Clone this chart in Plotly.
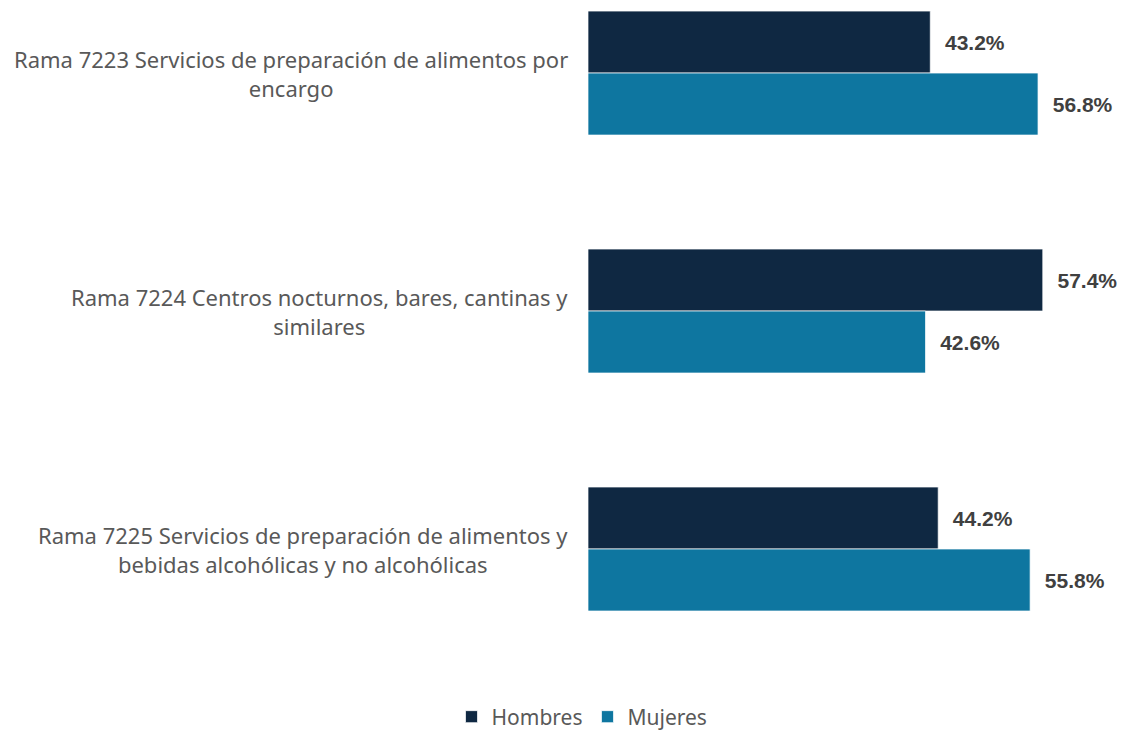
import plotly.graph_objects as go

# Datos
ramas = [
    "Rama 7223 Servicios de preparación de alimentos por<br>encargo",
    "Rama 7224 Centros nocturnos, bares, cantinas y<br>similares",
    "Rama 7225 Servicios de preparación de alimentos y<br>bebidas alcohólicas y no alcohólicas",
]
hombres = [43.2, 57.4, 44.2]
mujeres = [56.8, 42.6, 55.8]

colores = {"Hombres": "#0f2842", "Mujeres": "#0e76a0"}

fig = go.Figure()
for nombre, vals in [("Hombres", hombres), ("Mujeres", mujeres)]:
    fig.add_trace(go.Bar(
        name=nombre,
        y=list(range(len(ramas))),
        x=vals,
        orientation="h",
        marker=dict(color=colores[nombre], line=dict(color="rgba(255,255,255,0.7)", width=1)),
        text=["\u00a0\u00a0" + f"{v:.1f}%" for v in vals],
        textposition="outside",
        constraintext="none",
        textfont=dict(family="Liberation Sans", size=21, color="#404040", weight="bold"),
        cliponaxis=False,
        hoverinfo="skip",
    ))

# Etiquetas de categoría centradas
for i, r in enumerate(ramas):
    fig.add_annotation(
        x=0, xref="paper", y=i, yref="y",
        text=r, showarrow=False, align="center",
        xanchor="right", xshift=-18,
        font=dict(family="Noto Sans", size=22, color="#595959"),
    )

fig.update_layout(
    width=1127, height=730,
    barmode="group",
    bargap=0.479, bargroupgap=0,
    paper_bgcolor="white", plot_bgcolor="white",
    margin=dict(l=588, r=24, t=0, b=62),
    xaxis=dict(range=[0, 65], visible=False),
    yaxis=dict(range=[2.5, -0.307], visible=False),
    legend=dict(
        orientation="h", xref="container", x=582 / 1127, xanchor="center",
        yref="container", y=1 - 717 / 730, yanchor="middle",
        font=dict(family="Noto Sans", size=21, color="#595959"),
        itemwidth=30, traceorder="normal",
    ),
    font=dict(family="Noto Sans"),
    showlegend=True,
)

fig.write_html("out.html", config={"displayModeBar": False},
               post_script="document.body.style.margin='0';")
